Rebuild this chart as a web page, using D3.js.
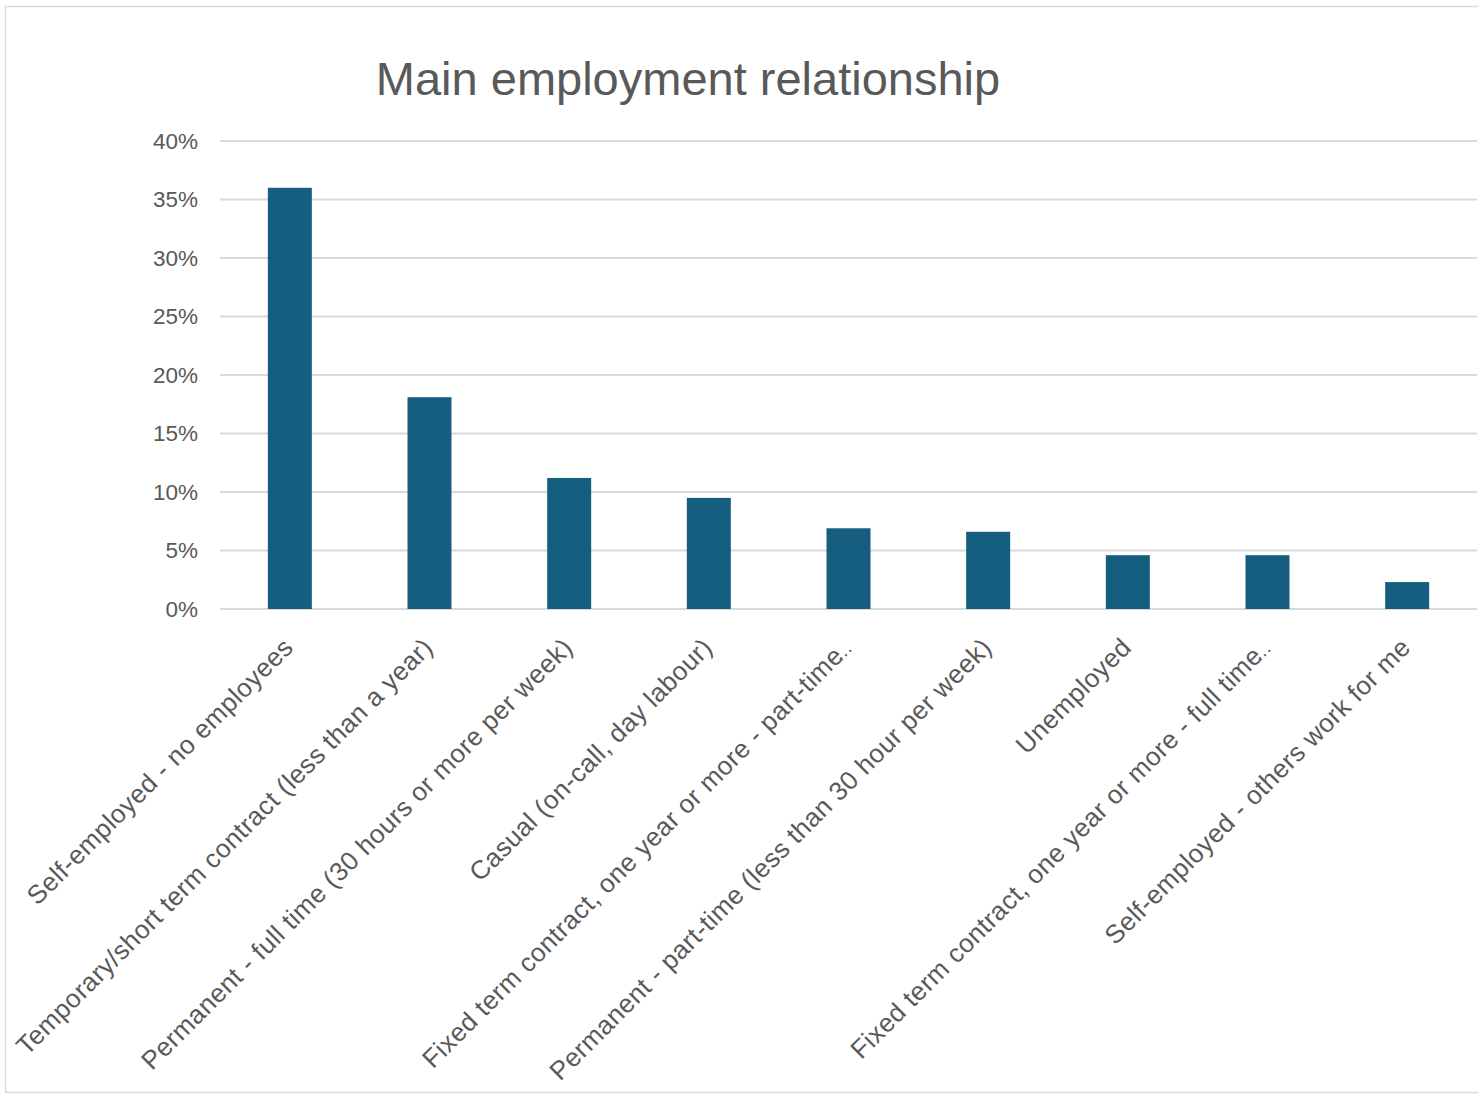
<!DOCTYPE html>
<html>
<head>
<meta charset="utf-8">
<script src="https://cdn.jsdelivr.net/npm/d3@7"></script>
<style>
  html, body { margin: 0; padding: 0; background: #ffffff; }
  svg { display: block; }
</style>
</head>
<body>
<svg id="chart" width="1478" height="1095"></svg>
<script>
const title = "Main employment relationship";
const categories = [
  "Self-employed - no employees",
  "Temporary/short term contract (less than a year)",
  "Permanent - full time (30 hours or more per week)",
  "Casual (on-call, day labour)",
  "Fixed term contract, one year or more - part-time…",
  "Permanent - part-time (less than 30 hour per week)",
  "Unemployed",
  "Fixed term contract, one year or more - full time…",
  "Self-employed - others work for me"
];
const values = [0.36, 0.181, 0.112, 0.095, 0.069, 0.066, 0.046, 0.046, 0.023];
const yTicks = [0, 0.05, 0.10, 0.15, 0.20, 0.25, 0.30, 0.35, 0.40];

const svg = d3.select("#chart");
const font = "'Liberation Sans', Arial, sans-serif";
const textColor = "#595959";
const gridColor = "#d9d9d9";
const barColor = "#165e80";

const plotLeft = 220, plotRight = 1477, plotTop = 141, plotBottom = 609;

// chart border
svg.append("rect")
  .attr("x", 5.5).attr("y", 6.5)
  .attr("width", 1490).attr("height", 1086)
  .attr("fill", "none").attr("stroke", gridColor).attr("stroke-width", 1.5);

const x = d3.scaleBand()
  .domain(categories)
  .range([plotLeft, plotRight])
  .paddingInner(0.685)
  .paddingOuter(0.3425);

const y = d3.scaleLinear().domain([0, 0.4]).range([plotBottom, plotTop]);

// gridlines
svg.append("g")
  .selectAll("line")
  .data(yTicks)
  .join("line")
  .attr("x1", plotLeft).attr("x2", plotRight)
  .attr("y1", d => y(d)).attr("y2", d => y(d))
  .attr("stroke", gridColor).attr("stroke-width", 1.8);

// y axis labels
const yAxis = d3.axisLeft(y).tickValues(yTicks).tickFormat(d3.format(".0%")).tickSize(0).tickPadding(22);
const gy = svg.append("g").attr("transform", `translate(${plotLeft},0)`).call(yAxis);
gy.select(".domain").remove();
gy.selectAll("text")
  .attr("font-family", font).attr("font-size", 22.5).attr("fill", textColor);

// bars
svg.append("g")
  .selectAll("rect")
  .data(values)
  .join("rect")
  .attr("x", (d, i) => x(categories[i]))
  .attr("y", d => y(d))
  .attr("width", x.bandwidth())
  .attr("height", d => y(0) - y(d))
  .attr("fill", barColor);

// x axis labels
const xAxis = d3.axisBottom(x).tickSize(0);
const gx = svg.append("g").attr("transform", `translate(0,${plotBottom})`).call(xAxis);
gx.select(".domain").remove();
gx.selectAll("text")
  .attr("x", 0).attr("y", 0).attr("dy", 0)
  .attr("text-anchor", "end")
  .attr("transform", "translate(5,40) rotate(-45)")
  .attr("font-family", font).attr("font-size", 26)
  .attr("letter-spacing", 0.45)
  .attr("fill", textColor)
  .each(function(d) {
    if (d.endsWith("…")) {
      const t = d3.select(this);
      t.text(null);
      t.append("tspan").text(d.slice(0, -1));
      t.append("tspan").attr("dx", -7).attr("font-size", 19).attr("letter-spacing", 0).text("…");
    }
  });

// title
svg.append("text")
  .attr("x", 688).attr("y", 95)
  .attr("text-anchor", "middle")
  .attr("font-family", font).attr("font-size", 47)
  .attr("fill", textColor)
  .text(title);
</script>
</body>
</html>
